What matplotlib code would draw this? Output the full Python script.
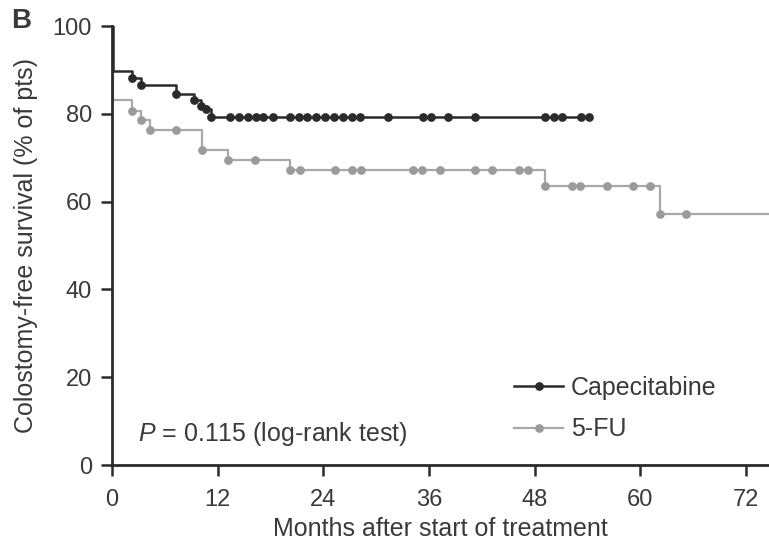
import matplotlib
matplotlib.use("Agg")
import matplotlib.pyplot as plt
from matplotlib.lines import Line2D
import numpy as np

plt.rcParams['font.family'] = ['Liberation Sans', 'DejaVu Sans']
plt.rcParams['mathtext.fontset'] = 'custom'
plt.rcParams['mathtext.it'] = 'Liberation Sans:italic'
plt.rcParams['mathtext.rm'] = 'Liberation Sans'

# ---- data (months, % colostomy-free) ----
cape_times = [0, 0.15, 2.3, 3.25, 7.3, 9.3, 10.1, 10.7, 11.3, 54.2]
cape_surv = [100, 89.8, 88.2, 86.5, 84.6, 83.1, 81.7, 81.0, 79.3, 79.3]
cape_censor = [2.3, 3.25, 7.3, 9.3, 10.1, 10.7, 11.3,
               13.4, 14.4, 15.4, 16.3, 17.2, 18.3,
               20.2, 21.2, 22.2, 23.2, 24.2, 25.2, 26.2, 27.2, 28.2,
               31.3, 35.3, 36.2, 38.2, 41.2, 49.2, 50.2, 51.1, 53.2, 54.2]

fu_times = [0, 0.15, 2.3, 3.25, 4.3, 10.2, 13.2, 20.2, 49.2, 62.2, 80]
fu_surv = [100, 83.1, 80.7, 78.6, 76.2, 71.8, 69.5, 67.2, 63.6, 57.2, 57.2]
fu_censor = [2.3, 3.25, 4.3, 7.3, 10.2, 13.2, 16.2, 20.2, 21.3, 25.3, 27.3, 28.3,
             34.2, 35.2, 37.2, 41.2, 43.2, 46.2, 47.2, 49.2, 52.2, 53.1, 56.2,
             59.2, 61.1, 62.2, 65.2]

xticks = [0, 12, 24, 36, 48, 60, 72]
yticks = [0, 20, 40, 60, 80, 100]

def surv_at(times, surv, t):
    idx = np.searchsorted(times, t, side='right') - 1
    return np.asarray(surv)[idx]

black = '#2b2b2b'
gray = '#a8a8a8'
gray_mk = '#9b9b9b'
txt = '#3a3a3a'

fig = plt.figure(figsize=(7.69, 5.43), dpi=100)
ax = fig.add_axes([0.1456, 0.1436, 0.8544, 0.8085])

ax.step(fu_times, fu_surv, where='post', color=gray, lw=1.6, zorder=2)
ax.plot(fu_censor, surv_at(fu_times, fu_surv, fu_censor), 'o', color=gray_mk,
        ms=6.3, mew=0, zorder=3)
ax.step(cape_times, cape_surv, where='post', color=black, lw=1.8, zorder=4)
ax.plot(cape_censor, surv_at(cape_times, cape_surv, cape_censor), 'o', color=black,
        ms=6.3, mew=0, zorder=5)

ax.set_xlim(0, 74.6)
ax.set_ylim(0, 100)
ax.set_xticks(xticks)
ax.set_yticks(yticks)
for s in ['top', 'right']:
    ax.spines[s].set_visible(False)
for s in ['left', 'bottom']:
    ax.spines[s].set_linewidth(2.0)
    ax.spines[s].set_color(black)
ax.tick_params(axis='both', direction='out', length=8, width=1.8, color=black,
               labelsize=17, labelcolor=txt)
ax.tick_params(axis='x', pad=9.5)
ax.tick_params(axis='y', pad=6.5)

ax.set_xlabel('Months after start of treatment', fontsize=18, color=txt, labelpad=4)
ax.set_ylabel('Colostomy-free survival (% of pts)', fontsize=18, color=txt, labelpad=10.5)

handles = [Line2D([], [], color=black, lw=1.8, marker='o', ms=6.3, mew=0),
           Line2D([], [], color=gray, lw=1.6, marker='o', ms=6.3, mew=0,
                  markerfacecolor=gray_mk)]
leg = ax.legend(handles, ['Capecitabine', '5-FU'], loc='center left',
                bbox_to_anchor=(0.612, 0.1285), frameon=False, fontsize=18,
                handlelength=1.96, handletextpad=0.32, labelspacing=0.71,
                borderpad=0, borderaxespad=0)
for t in leg.get_texts():
    t.set_color(txt)

ax.text(2.9, 7.0, r'$P$ = 0.115 (log-rank test)', fontsize=18, color=txt,
        va='center', ha='left')

fig.text(0.014, 0.961, 'B', fontsize=20, fontweight='bold', color=txt,
         ha='left', va='center')

fig.savefig('out.png', dpi=100)
